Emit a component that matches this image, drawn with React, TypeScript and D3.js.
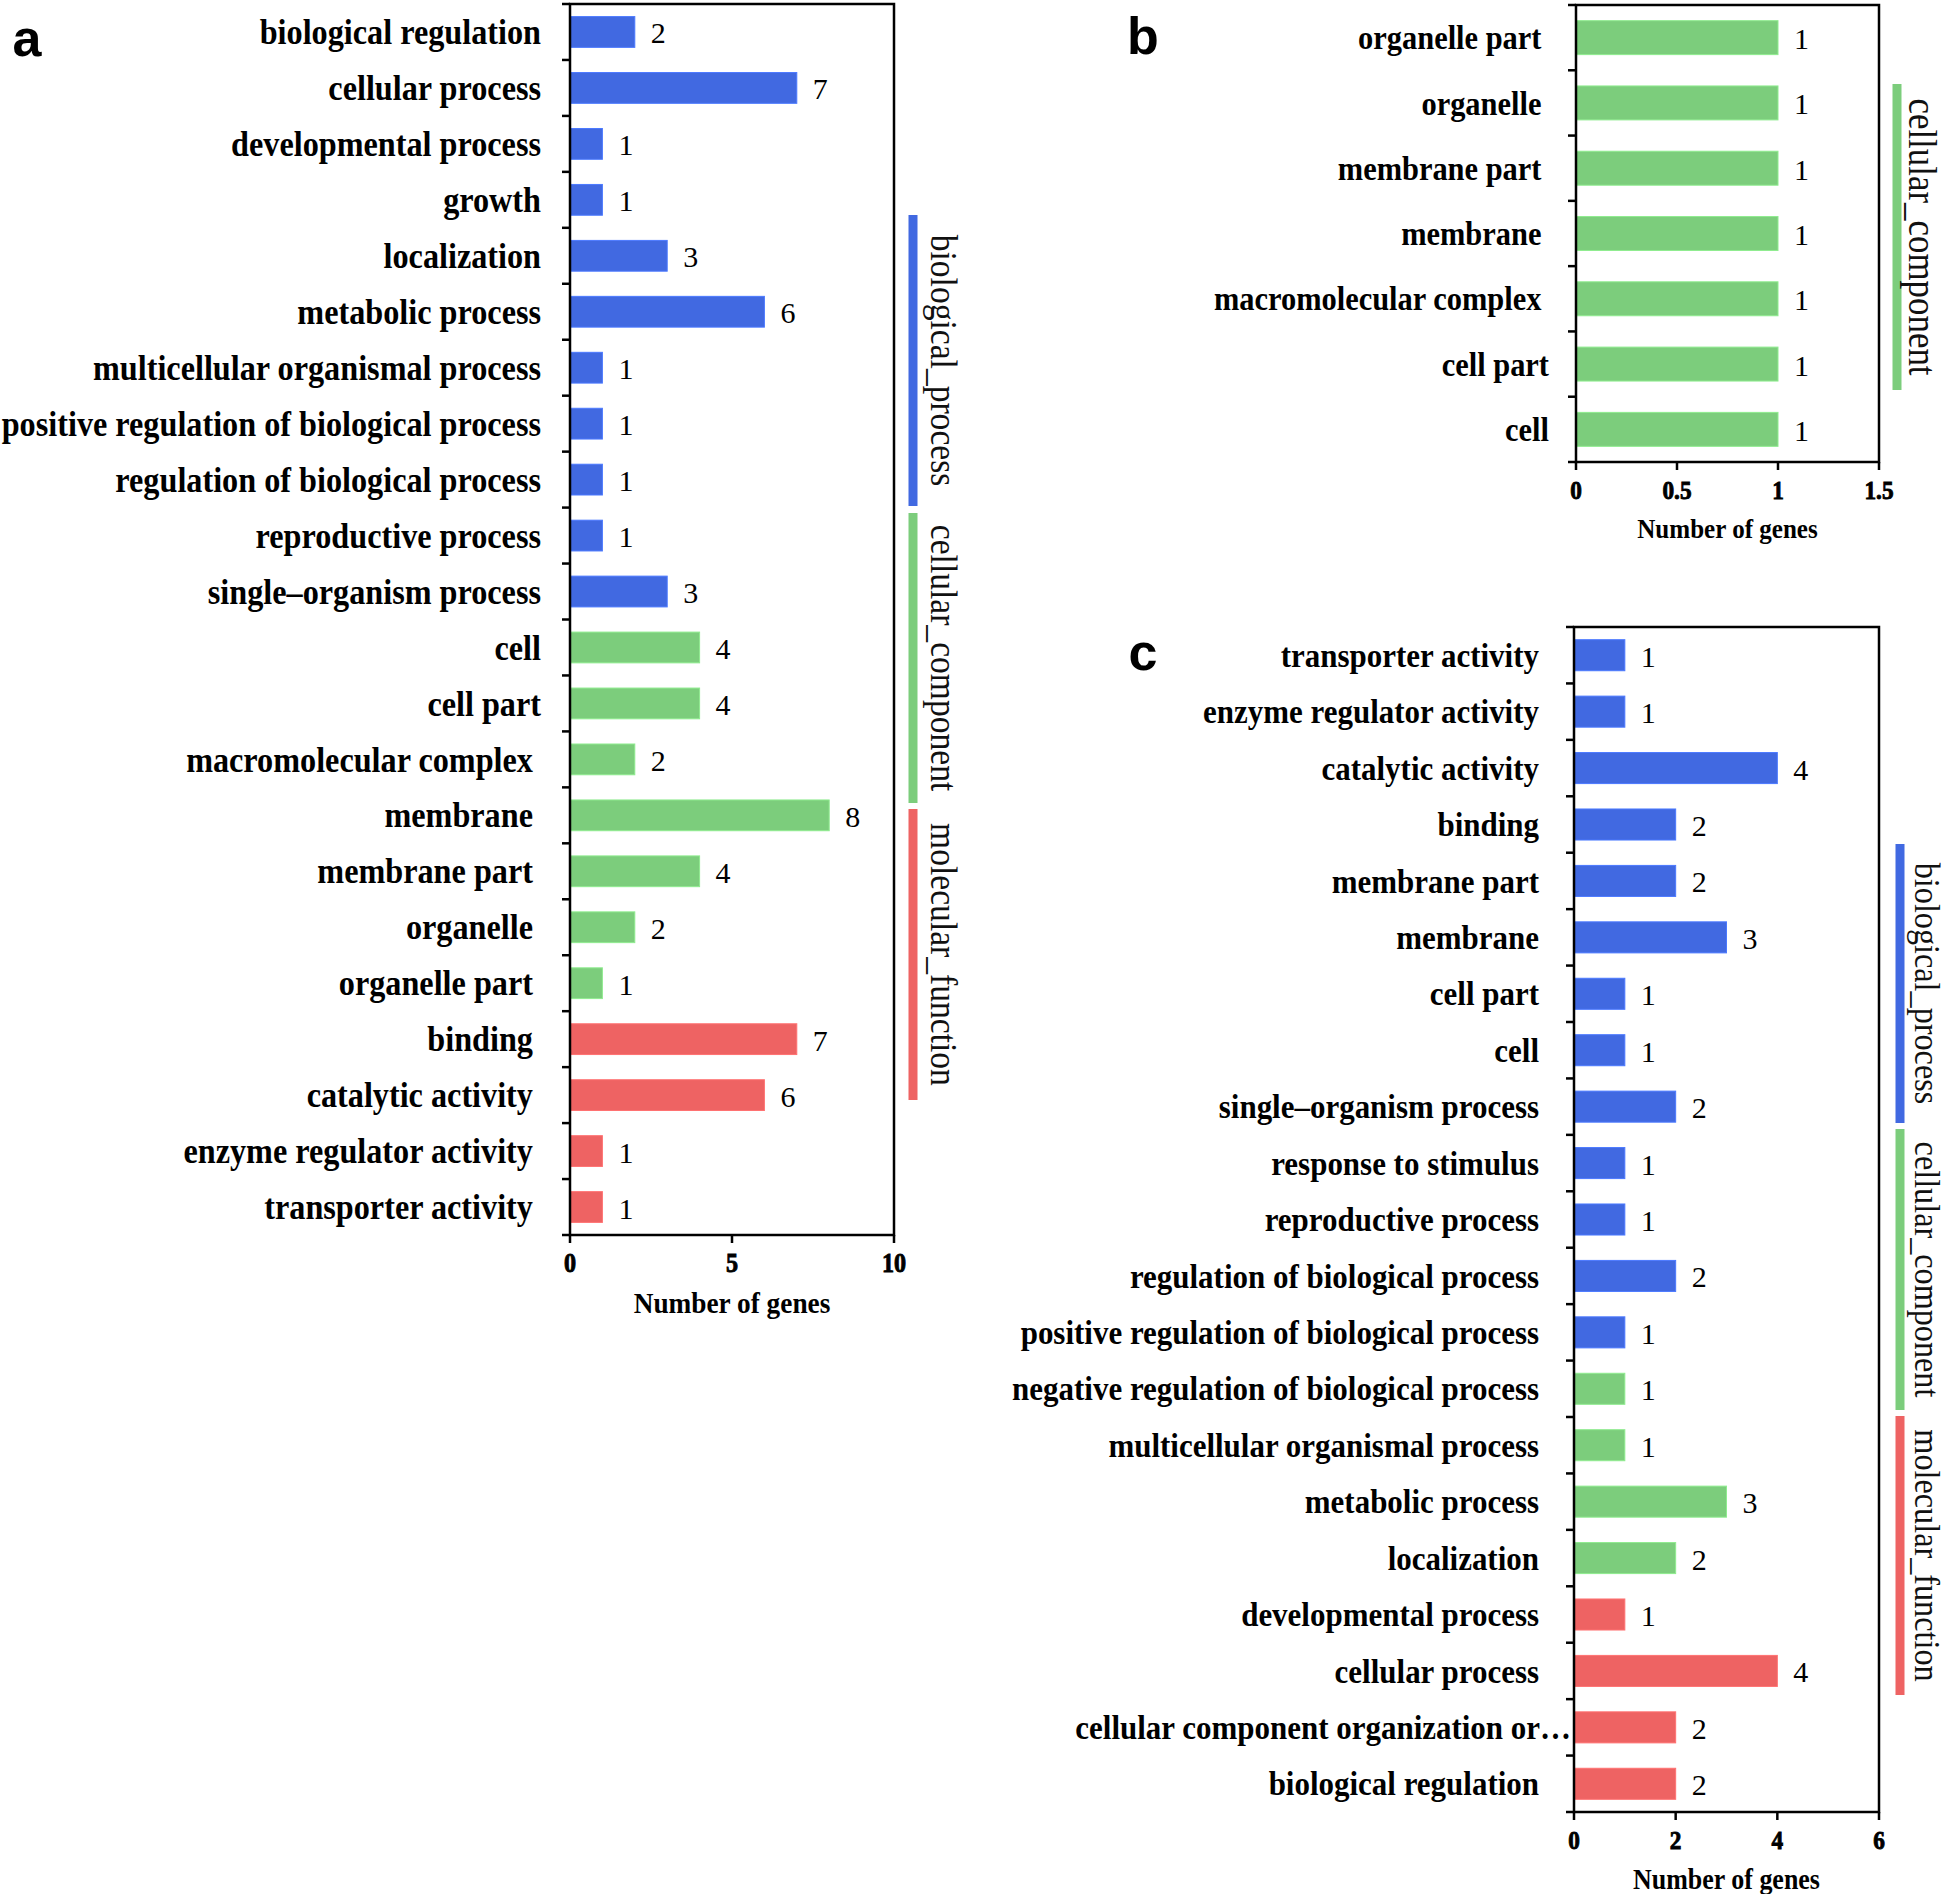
import React from 'react';
import * as d3 from 'd3';

const BLUE = '#4169E1';
const GREEN = '#7CCD7C';
const RED = '#EE6363';
const groupColor: Record<string, string> = { BP: BLUE, CC: GREEN, MF: RED };
const groupName: Record<string, string> = {
  BP: 'biological_process',
  CC: 'cellular_component',
  MF: 'molecular_function',
};

// ---------- panel a ----------
const aCategories = [
  'biological regulation', 'cellular process', 'developmental process', 'growth',
  'localization', 'metabolic process', 'multicellular organismal process',
  'positive regulation of biological process', 'regulation of biological process',
  'reproductive process', 'single\u2013organism process', 'cell', 'cell part',
  'macromolecular complex ', 'membrane ', 'membrane part ', 'organelle ', 'organelle part ',
  'binding ', 'catalytic activity ', 'enzyme regulator activity ', 'transporter activity ',
];
const aValues = [2, 7, 1, 1, 3, 6, 1, 1, 1, 1, 3, 4, 4, 2, 8, 4, 2, 1, 7, 6, 1, 1];
const aGroups = [
  'BP', 'BP', 'BP', 'BP', 'BP', 'BP', 'BP', 'BP', 'BP', 'BP', 'BP',
  'CC', 'CC', 'CC', 'CC', 'CC', 'CC', 'CC',
  'MF', 'MF', 'MF', 'MF',
];
const aTicks = [0, 5, 10];

// ---------- panel b ----------
const bCategories = [
  'organelle part ', 'organelle ', 'membrane part ', 'membrane ',
  'macromolecular complex ', 'cell part', 'cell',
];
const bValues = [1, 1, 1, 1, 1, 1, 1];
const bGroups = ['CC', 'CC', 'CC', 'CC', 'CC', 'CC', 'CC'];
const bTicks = [0, 0.5, 1, 1.5];

// ---------- panel c ----------
const cCategories = [
  'transporter activity', 'enzyme regulator activity', 'catalytic activity', 'binding',
  'membrane part', 'membrane', 'cell part', 'cell', 'single\u2013organism process',
  'response to stimulus', 'reproductive process', 'regulation of biological process',
  'positive regulation of biological process', 'negative regulation of biological process',
  'multicellular organismal process', 'metabolic process', 'localization',
  'developmental process', 'cellular process', 'cellular component organization or\u2026',
  'biological regulation',
];
const cValues = [1, 1, 4, 2, 2, 3, 1, 1, 2, 1, 1, 2, 1, 1, 1, 3, 2, 1, 4, 2, 2];
const cGroups = [
  'BP', 'BP', 'BP', 'BP', 'BP', 'BP', 'BP', 'BP', 'BP', 'BP', 'BP', 'BP', 'BP',
  'CC', 'CC', 'CC', 'CC',
  'MF', 'MF', 'MF', 'MF',
];
const cTicks = [0, 2, 4, 6];

const SERIF = '"Liberation Serif", "Times New Roman", serif';
const SANS = '"Liberation Sans", Arial, sans-serif';

type Legend = { group: string; y0: number; y1: number };

type PanelProps = {
  letter: string;
  letterX: number;
  letterY: number;
  cats: string[];
  vals: number[];
  groups: string[];
  ticks: number[];
  xMax: number;
  left: number;
  right: number;
  top: number;
  bottom: number;
  pad: number;
  labelGap: number;
  labelSize: number;
  valueSize: number;
  tickSize: number;
  titleSize: number;
  legend: Legend[];
  legendX: number;
  legendTextX: number;
  legendSize: number;
};

const SX = 0.895;

function Panel(p: PanelProps) {
  const x = d3.scaleLinear().domain([0, p.xMax]).range([p.left, p.right]);
  const y = d3
    .scaleBand<string>()
    .domain(p.cats)
    .range([p.top, p.bottom])
    .paddingInner(p.pad)
    .paddingOuter(p.pad / 2);
  const step = y.step();
  const boundaries = d3.range(p.cats.length + 1).map((i) => p.top + i * step);
  const tickLen = 8;
  return (
    <g>
      <text
        x={p.letterX}
        y={p.letterY}
        fontFamily={SANS}
        fontWeight="bold"
        fontSize={52}
        textAnchor="middle"
        dominantBaseline="central"
      >
        {p.letter}
      </text>
      {/* bars */}
      {p.cats.map((c, i) => {
        const col = groupColor[p.groups[i]];
        return (
          <rect
            key={'b' + i}
            x={x(0)}
            y={y(c)}
            width={x(p.vals[i]) - x(0)}
            height={y.bandwidth()}
            fill={col}
            stroke={d3.color(col)!.brighter(0.4).toString()}
            strokeWidth={1}
          />
        );
      })}
      {/* value labels */}
      {p.cats.map((c, i) => (
        <text
          key={'v' + i}
          x={x(p.vals[i]) + 16}
          y={(y(c) as number) + y.bandwidth() / 2 + 1}
          fontFamily={SERIF}
          fontSize={p.valueSize}
          dominantBaseline="central"
        >
          {p.vals[i]}
        </text>
      ))}
      {/* category labels */}
      {p.cats.map((c, i) => {
        const ell = c.endsWith('\u2026');
        return (
          <text
            key={'l' + i}
            transform={`translate(${p.left - p.labelGap + (ell ? 32 : 0)},${(y(c) as number) + y.bandwidth() / 2}) scale(${SX},1)`}
            fontFamily={SERIF}
            fontWeight="bold"
            fontSize={p.labelSize}
            textAnchor="end"
            dominantBaseline="central"
            xmlSpace="preserve"
            style={{ whiteSpace: 'pre' }}
          >
            {c}
          </text>
        );
      })}
      {/* frame */}
      <rect
        x={p.left}
        y={p.top}
        width={p.right - p.left}
        height={p.bottom - p.top}
        fill="none"
        stroke="#000"
        strokeWidth={2.5}
      />
      {/* y ticks */}
      {boundaries.map((b, i) => (
        <line key={'yt' + i} x1={p.left - tickLen} x2={p.left} y1={b} y2={b} stroke="#000" strokeWidth={2.5} />
      ))}
      {/* x ticks */}
      {p.ticks.map((t, i) => (
        <g key={'xt' + i}>
          <line x1={x(t)} x2={x(t)} y1={p.bottom} y2={p.bottom + tickLen} stroke="#000" strokeWidth={2.5} />
          <text
            transform={`translate(${x(t)},${p.bottom + 28}) scale(${SX},1)`}
            fontFamily={SERIF}
            fontWeight="bold"
            fontSize={p.tickSize}
            textAnchor="middle"
            dominantBaseline="central"
            stroke="#000"
            strokeWidth={0.9}
          >
            {String(t)}
          </text>
        </g>
      ))}
      <text
        transform={`translate(${(p.left + p.right) / 2},${p.bottom + 67}) scale(${SX},1)`}
        fontFamily={SERIF}
        fontWeight="bold"
        fontSize={p.titleSize}
        textAnchor="middle"
        dominantBaseline="central"
      >
        Number of genes
      </text>
      {/* group legend */}
      {p.legend.map((l, i) => (
        <g key={'lg' + i}>
          <rect x={p.legendX - 4.5} y={l.y0} width={9} height={l.y1 - l.y0} fill={groupColor[l.group]} />
          <text
            transform={`translate(${p.legendTextX},${(l.y0 + l.y1) / 2}) rotate(90) scale(${SX},1)`}
            fontFamily={SERIF}
            fontSize={p.legendSize}
            textAnchor="middle"
            dominantBaseline="central"
            fill="#111"
          >
            {groupName[l.group]}
          </text>
        </g>
      ))}
    </g>
  );
}

export default function App() {
  return (
    <div style={{ position: 'absolute', left: 0, top: 0 }}>
      <svg width={1946} height={1894} style={{ display: 'block', background: '#fff' }}>
        <Panel
          letter="a"
          letterX={27}
          letterY={38}
          cats={aCategories}
          vals={aValues}
          groups={aGroups}
          ticks={aTicks}
          xMax={10}
          left={570}
          right={894}
          top={4}
          bottom={1235}
          pad={0.45}
          labelGap={29}
          labelSize={36}
          valueSize={30}
          tickSize={27}
          titleSize={30.5}
          legend={[
            { group: 'BP', y0: 215, y1: 506 },
            { group: 'CC', y0: 513, y1: 803 },
            { group: 'MF', y0: 809, y1: 1100 },
          ]}
          legendX={913}
          legendTextX={944}
          legendSize={37.5}
        />
        <Panel
          letter="b"
          letterX={1143}
          letterY={36}
          cats={bCategories}
          vals={bValues}
          groups={bGroups}
          ticks={bTicks}
          xMax={1.5}
          left={1576}
          right={1879}
          top={5}
          bottom={462}
          pad={0.48}
          labelGap={27}
          labelSize={34}
          valueSize={30}
          tickSize={26}
          titleSize={28}
          legend={[{ group: 'CC', y0: 84, y1: 390 }]}
          legendX={1897}
          legendTextX={1922}
          legendSize={39}
        />
        <Panel
          letter="c"
          letterX={1143}
          letterY={652}
          cats={cCategories}
          vals={cValues}
          groups={cGroups}
          ticks={cTicks}
          xMax={6}
          left={1574}
          right={1879}
          top={627}
          bottom={1812}
          pad={0.45}
          labelGap={35}
          labelSize={34.6}
          valueSize={30}
          tickSize={26}
          titleSize={29}
          legend={[
            { group: 'BP', y0: 844, y1: 1123 },
            { group: 'CC', y0: 1129, y1: 1410 },
            { group: 'MF', y0: 1416, y1: 1695 },
          ]}
          legendX={1900}
          legendTextX={1927}
          legendSize={36}
        />
      </svg>
    </div>
  );
}
